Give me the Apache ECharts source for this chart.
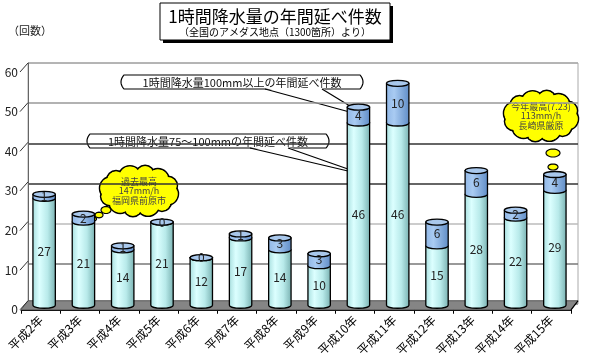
<!DOCTYPE html>
<html><head><meta charset="utf-8">
<script src="https://cdn.jsdelivr.net/npm/echarts@6/dist/echarts.min.js"></script>
<style>html,body{margin:0;padding:0;background:#fff}#c{width:600px;height:359px}</style>
</head><body><div id="c"></div>
<script>
// ---- data ----
const categories = ['平成2年','平成3年','平成4年','平成5年','平成6年','平成7年','平成8年','平成9年','平成10年','平成11年','平成12年','平成13年','平成14年','平成15年'];
const rain75to100 = [27,21,14,21,12,17,14,10,46,46,15,28,22,29];
const rain100plus = [1,2,1,0,0,1,3,3,4,10,6,6,2,4];
const yTicks = [0,10,20,30,40,50,60];
const yMin = 0, yMax = 60, yStep = 10;

const FONT = '"Noto Sans CJK JP","Noto Sans",sans-serif';
const DX = 7, DY = -9; // depth of the 3D box

const chart = echarts.init(document.getElementById('c'));

function cylPath(cx, rx, ry, yTop, yBot) {
  return `M${cx-rx},${yTop} L${cx-rx},${yBot} A${rx},${ry} 0 0 0 ${cx+rx},${yBot} L${cx+rx},${yTop} Z`;
}
function ellPath(cx, cy, rx, ry) {
  return `M${cx-rx},${cy} A${rx},${ry} 0 0 0 ${cx+rx},${cy} A${rx},${ry} 0 0 0 ${cx-rx},${cy} Z`;
}
function ellPts(cx, cy, a, b, n) {
  const p = [];
  for (let k = 0; k < n; k++) { const t = 2*Math.PI*k/n; p.push([cx+a*Math.cos(t), cy+b*Math.sin(t)]); }
  return p;
}
const gradLow = () => new echarts.graphic.LinearGradient(0,0,1,0,[
  {offset:0,color:'#a6dede'},{offset:0.3,color:'#dcffff'},{offset:0.65,color:'#b8eaea'},{offset:1,color:'#78b0b0'}]);
const gradHigh = () => new echarts.graphic.LinearGradient(0,0,1,0,[
  {offset:0,color:'#8fb6e6'},{offset:0.35,color:'#a9cbf2'},{offset:1,color:'#5f8cc6'}]);

function cloud(cx, cy, a, b, r, n, lines, bubbles) {
  const centers = [];
  for (let k = 0; k < n; k++) {
    const t = 2*Math.PI*k/n + 0.2;
    const rr = r * (k % 2 ? 0.85 : 1.05);
    centers.push([cx+(a-rr)*Math.cos(t), cy+(b-rr)*Math.sin(t), rr]);
  }
  const els = [];
  bubbles.forEach(bb => els.push({type:'polygon', shape:{points: ellPts(bb[0],bb[1],bb[2],bb[3],24)}, style:{fill:'#ffff00', stroke:'#000', lineWidth:1.2}}));
  centers.forEach(c => els.push({type:'circle', shape:{cx:c[0],cy:c[1],r:c[2]}, style:{fill:'#ffff00', stroke:'#000', lineWidth:1.6}}));
  centers.forEach(c => els.push({type:'circle', shape:{cx:c[0],cy:c[1],r:c[2]-0.9}, style:{fill:'#ffff00'}}));
  els.push({type:'polygon', shape:{points: ellPts(cx,cy,a-r*0.5,b-r*0.5,30)}, style:{fill:'#ffff00'}});
  lines.forEach((t,i) => els.push({type:'text', style:{text:t, x:cx, y:cy+(i-1)*9.5, align:'center', verticalAlign:'middle', font:'9px '+FONT, fill:'#444'}}));
  return els;
}

function callout(x0, y0, x1, y1, text, wedge) {
  const b = 3, ym = (y0+y1)/2, pts = [];
  const q = (p0, c, p1, n) => { for (let i = 0; i <= n; i++) { const t=i/n;
    pts.push([(1-t)*(1-t)*p0[0]+2*t*(1-t)*c[0]+t*t*p1[0], (1-t)*(1-t)*p0[1]+2*t*(1-t)*c[1]+t*t*p1[1]]); } };
  pts.push([x0+b,y0]);
  q([x1-b,y0],[x1+b,ym],[x1-b,y1],10);
  q([x0+b,y1],[x0-b,ym],[x0+b,y0],10);
  return [
    {type:'polygon', shape:{points:pts}, style:{fill:'#fff', stroke:'#000', lineWidth:1.2}},
    {type:'polygon', shape:{points:[[wedge[0],y1-1],[wedge[1],y1-1],[wedge[2],wedge[3]]]}, style:{fill:'#fff'}},
    {type:'line', shape:{x1:wedge[0],y1:y1,x2:wedge[2],y2:wedge[3]}, style:{stroke:'#000', lineWidth:1.2}},
    {type:'line', shape:{x1:wedge[1],y1:y1,x2:wedge[2],y2:wedge[3]}, style:{stroke:'#000', lineWidth:1.2}},
    {type:'text', style:{text:text, x:(x0+x1)/2, y:ym+0.5, align:'center', verticalAlign:'middle', font:'11px '+FONT, fill:'#111'}}
  ];
}

const barData = categories.map((c,i) => [i, rain75to100[i], rain100plus[i]]);

const option = {
  backgroundColor: '#fff',
  animation: false,
  grid: [
    {left: 21+DX, right: 29-DX, top: 72+DY, bottom: 46-DY, show: true, borderColor: '#aaa', borderWidth: 1, backgroundColor: '#fff'},
    {left: 21, right: 29, top: 72, bottom: 46}
  ],
  xAxis: [
    {gridIndex: 0, type: 'category', data: categories, show: false},
    {gridIndex: 1, type: 'category', data: categories,
     axisLine: {lineStyle: {color: '#000', width: 1}},
     axisTick: {show: true, length: 4, lineStyle: {color: '#000'}},
     axisLabel: {interval: 0, rotate: 45, margin: 8, fontSize: 12, color: '#000', fontFamily: FONT}}
  ],
  yAxis: [
    {gridIndex: 0, type: 'value', min: yMin, max: yMax, interval: yStep,
     axisLabel: {show: false}, axisTick: {show: false},
     axisLine: {show: true, lineStyle: {color: '#666'}},
     splitLine: {show: true, lineStyle: {width: 1.5, color: ['#888','#777','#bbb','#333','#333','#999','#aaa']}}},
    {gridIndex: 1, type: 'value', min: yMin, max: yMax, interval: yStep,
     axisLine: {show: false}, axisTick: {show: false}, splitLine: {show: false},
     axisLabel: {margin: 3, fontSize: 12, color: '#222', fontFamily: FONT}}
  ],
  series: [
    {
      type: 'custom', xAxisIndex: 1, yAxisIndex: 1, z: 1, silent: true,
      data: [[0]],
      renderItem(params, api) {
        const cs = params.coordSys;
        const yb = cs.y + cs.height, xl = cs.x, xr = cs.x + cs.width;
        const ch = [{type:'polygon', shape:{points:[[xl,yb],[xr,yb],[xr+DX,yb+DY],[xl+DX,yb+DY]]},
                     style:{fill:'#858585', stroke:'#555', lineWidth:1}},
                    {type:'line', shape:{x1:xr,y1:yb,x2:xr+DX,y2:yb+DY}, style:{stroke:'#000', lineWidth:1.2}}];
        yTicks.forEach(v => {
          const y = api.coord([0, v])[1];
          ch.push({type:'line', shape:{x1:xl-1,y1:y,x2:xl+DX,y2:y+DY}, style:{stroke:'#333', lineWidth:1}});
        });
        return {type:'group', children: ch};
      }
    },
    {
      type: 'custom', xAxisIndex: 1, yAxisIndex: 1, z: 3, silent: true,
      data: barData,
      renderItem(params, api) {
        const i = api.value(0), a = api.value(1), b = api.value(2);
        const p0 = api.coord([i, 0]), p1 = api.coord([i, a]), p2 = api.coord([i, a + b]);
        const ox = DX/2, oy = DY/2;
        const cx = p0[0] + ox, y0 = p0[1] + oy, y1 = p1[1] + oy, y2 = p2[1] + oy;
        const rx = api.size([1, 0])[0] * 0.57 / 2, ry = 3;
        const font = '12px ' + FONT;
        return {type:'group', children: [
          {type:'path', shape:{pathData: cylPath(cx,rx,ry,y1,y0)}, style:{fill: gradLow(), stroke:'#000', lineWidth:1.3}},
          {type:'path', shape:{pathData: cylPath(cx,rx,ry,y2,y1)}, style:{fill: gradHigh(), stroke:'#000', lineWidth:1.3}},
          {type:'path', shape:{pathData: ellPath(cx,y2,rx,ry)}, style:{fill:'#a9c8ec', stroke:'#000', lineWidth:1.3}},
          {type:'text', style:{text:String(a), x:cx, y:(y0+y1)/2, align:'center', verticalAlign:'middle', font:font, fill:'#222'}},
          {type:'text', style:{text:String(b), x:cx, y:(y1+y2)/2, align:'center', verticalAlign:'middle', font:font, fill:'#222'}}
        ]};
      }
    }
  ],
  graphic: [
    {type:'text', left: 8, top: 25, style:{text:'（回数）', font:'11px '+FONT, fill:'#222'}},
    {type:'group', z: 100, children: [
      {type:'rect', shape:{x:163, y:6, width:230, height:37}, style:{fill:'#000'}},
      {type:'rect', shape:{x:160, y:3, width:230, height:37}, style:{fill:'#fff', stroke:'#000', lineWidth:1}},
      {type:'text', style:{text:'1時間降水量の年間延べ件数', x:275, y:17, align:'center', verticalAlign:'middle', font:'17px '+FONT, fill:'#000'}},
      {type:'text', style:{text:'（全国のアメダス地点（1300箇所）より）', x:275, y:32, align:'center', verticalAlign:'middle', font:'10px '+FONT, fill:'#000'}}
    ]},
    {type:'group', z: 100, children: callout(121, 75, 363, 89, '1時間降水量100mm以上の年間延べ件数', [265, 322, 368, 117])},
    {type:'group', z: 100, children: callout(87, 134, 329, 148, '1時間降水量75～100mmの年間延べ件数', [250, 288, 365, 175])},
    {type:'group', z: 100, children: cloud(139, 191, 40, 26, 11, 12, ['過去最高','147mm/h','福岡県前原市'],
      [[106,210,5,3.5],[99,215,4,2.8],[94,219,2.5,1.8]])},
    {type:'group', z: 100, children: cloud(541, 116, 38, 26, 11, 12, ['今年最高(7.23)','113mm/h','長崎県厳原'],
      [[553,153,7,4],[553,167,5,3],[553,175,2.5,1.5]])}
  ]
};
chart.setOption(option);
</script>
</body></html>
